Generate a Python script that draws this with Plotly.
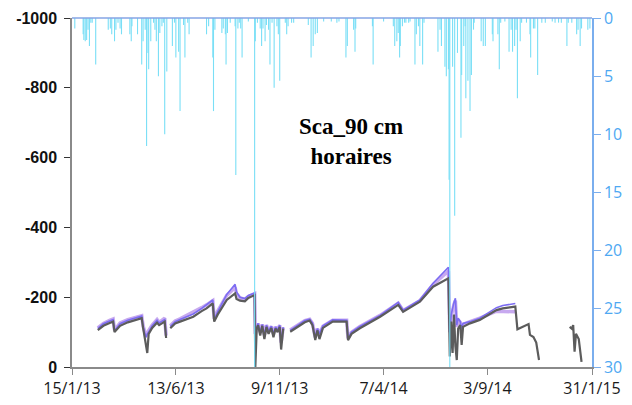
import plotly.graph_objects as go

# ---------------- data ----------------
# hourly rainfall (mm), right axis (reversed)
rain_dates = [
    "2013-01-19", "2013-01-31", "2013-02-01", "2013-02-03", "2013-02-05", "2013-02-07", "2013-02-09",
    "2013-02-11", "2013-02-13", "2013-02-18", "2013-03-08", "2013-03-11", "2013-03-13", "2013-03-17",
    "2013-03-19", "2013-03-22", "2013-03-25", "2013-03-27", "2013-04-08", "2013-04-10", "2013-04-11",
    "2013-04-19", "2013-04-25", "2013-04-27", "2013-04-30", "2013-05-02", "2013-05-04", "2013-05-05",
    "2013-05-08", "2013-05-12", "2013-05-14", "2013-05-16", "2013-05-19", "2013-05-21", "2013-05-24",
    "2013-05-26", "2013-05-28", "2013-05-31", "2013-06-08", "2013-06-11", "2013-06-13", "2013-06-17",
    "2013-06-19", "2013-06-24", "2013-06-26", "2013-06-30", "2013-07-02",
    "2013-07-27", "2013-07-30", "2013-08-05", "2013-08-06", "2013-08-08", "2013-08-18", "2013-08-20",
    "2013-08-23", "2013-08-24", "2013-08-26", "2013-08-30", "2013-09-06", "2013-09-07", "2013-09-10",
    "2013-09-12", "2013-09-14", "2013-09-16", "2013-09-25", "2013-10-04", "2013-10-05", "2013-10-08",
    "2013-10-12", "2013-10-14", "2013-10-16", "2013-10-19", "2013-10-21", "2013-10-24", "2013-10-26",
    "2013-10-29", "2013-11-01", "2013-11-05", "2013-11-07", "2013-11-09", "2013-11-17", "2013-11-19",
    "2013-11-21", "2013-11-26", "2013-11-29", "2013-12-20", "2013-12-24", "2013-12-27", "2013-12-30",
    "2014-01-02", "2014-01-11", "2014-01-22",
    "2014-01-30", "2014-02-02", "2014-02-12", "2014-02-14", "2014-02-23", "2014-02-25", "2014-02-26",
    "2014-03-22", "2014-03-23", "2014-04-07", "2014-04-21", "2014-04-23", "2014-04-26", "2014-04-28",
    "2014-04-30", "2014-05-01", "2014-05-04", "2014-05-07", "2014-05-09", "2014-05-13", "2014-05-15",
    "2014-05-22", "2014-05-24", "2014-05-27", "2014-05-29", "2014-06-02", "2014-06-04", "2014-06-24",
    "2014-06-27", "2014-06-29", "2014-07-04", "2014-07-06", "2014-07-09", "2014-07-10", "2014-07-11",
    "2014-07-15", "2014-07-18", "2014-07-22", "2014-07-27",
    "2014-07-28", "2014-07-31", "2014-08-02", "2014-08-03", "2014-08-06", "2014-08-09", "2014-08-11",
    "2014-08-14", "2014-08-15", "2014-08-25", "2014-08-28", "2014-08-31", "2014-09-10", "2014-09-11",
    "2014-09-18", "2014-09-20", "2014-09-22", "2014-09-28", "2014-10-04", "2014-10-07", "2014-10-09",
    "2014-10-12", "2014-10-14", "2014-10-16", "2014-10-20", "2014-10-22", "2014-10-29", "2014-11-03",
    "2014-11-04", "2014-11-08", "2014-11-10", "2014-11-14", "2014-11-20", "2014-11-25", "2014-12-05",
    "2014-12-09", "2014-12-14", "2014-12-18", "2014-12-26", "2014-12-28", "2015-01-02", "2015-01-09",
    "2015-01-11", "2015-01-14", "2015-01-16", "2015-01-25", "2015-01-28",
]
rain_mm = [
    0.9, 1.4, 1.9, 2.0, 1.9, 1.0, 2.4,
    0.4, 0.4, 4.0, 1.0, 0.9, 1.4, 2.0,
    1.0, 0.4, 0.9, 1.4, 1.4, 2.0, 0.7,
    1.4, 4.0, 2.0, 1.0, 11.0, 3.0, 4.4,
    2.0, 0.4, 1.0, 2.0, 5.0, 1.3, 0.7,
    0.4, 10.0, 4.6, 2.4, 0.4, 3.4, 2.9,
    8.0, 0.6, 3.4, 0.4, 1.4,
    1.4, 0.7, 3.4, 8.0, 1.0, 1.3, 0.9,
    1.4, 4.0, 1.3, 0.4, 0.7, 13.5, 0.9,
    0.4, 0.9, 3.4, 0.3, 32.0, 2.0, 0.4,
    0.9, 2.4, 0.9, 2.0, 0.6, 1.0, 4.0,
    0.4, 6.0, 0.7, 1.4, 5.4, 0.4, 1.4,
    0.7, 0.4, 0.4, 0.6, 3.4, 2.4, 1.4,
    1.3, 0.3, 0.3,
    0.4, 0.3, 3.4, 2.4, 1.0, 2.9, 0.9,
    0.7, 4.0, 0.3, 0.7, 2.4, 2.0, 1.3,
    3.4, 2.4, 0.7, 0.4, 0.4, 0.4, 0.3,
    4.0, 1.4, 0.7, 2.4, 4.0, 0.4, 2.9,
    1.0, 2.4, 4.2, 5.0, 4.4, 13.9, 32.0,
    4.2, 17.0, 3.0, 10.3,
    4.9, 2.4, 0.7, 6.9, 5.4, 8.0, 4.9,
    1.0, 0.4, 2.0, 2.4, 2.4, 1.4, 2.0,
    1.4, 4.4, 0.4, 0.3, 2.9, 1.0, 2.9,
    2.4, 1.0, 6.9, 2.0, 0.4, 0.4, 1.4,
    3.4, 0.9, 0.9, 4.9, 0.4, 0.4, 0.3,
    0.4, 0.4, 0.4, 2.4, 0.4, 0.4, 1.4,
    1.0, 2.4, 0.9, 1.0, 0.9,
]

# soil water suction at 90 cm (left axis, reversed); None = gap in record
suction_dates = [
    "2013-02-21", "2013-03-01", "2013-03-10", "2013-03-15", "2013-03-17", "2013-03-25", "2013-04-05",
    "2013-04-15", "2013-04-25", "2013-04-27", "2013-05-01", "2013-05-03", "2013-05-05", "2013-05-10",
    "2013-05-17", "2013-05-20", "2013-05-28", "2013-05-30", "2013-06-02",
    "2013-06-05", "2013-06-12", "2013-06-19", "2013-07-01", "2013-07-08", "2013-07-20", "2013-07-27",
    "2013-08-05", "2013-08-07", "2013-08-12", "2013-08-25", "2013-09-06", "2013-09-08", "2013-09-13",
    "2013-09-20", "2013-09-25", "2013-10-04", "2013-10-05", "2013-10-07", "2013-10-09", "2013-10-12",
    "2013-10-15", "2013-10-18", "2013-10-21", "2013-10-24", "2013-10-28", "2013-10-31", "2013-11-03",
    "2013-11-06", "2013-11-09", "2013-11-11", "2013-11-14", "2013-11-19",
    "2013-11-24", "2013-12-05", "2013-12-15", "2013-12-22", "2013-12-26", "2013-12-30", "2014-01-02",
    "2014-01-05", "2014-01-10", "2014-01-24", "2014-02-13", "2014-02-15", "2014-02-20", "2014-03-04",
    "2014-04-02", "2014-04-28", "2014-05-05", "2014-05-29", "2014-06-17", "2014-07-09", "2014-07-11",
    "2014-07-13", "2014-07-15", "2014-07-17", "2014-07-19", "2014-07-21", "2014-07-23", "2014-07-26",
    "2014-07-28", "2014-07-30", "2014-08-09", "2014-08-23", "2014-09-16", "2014-09-25", "2014-10-13",
    "2014-10-16", "2014-11-01", "2014-11-03", "2014-11-08", "2014-11-12", "2014-11-16", "2014-12-01",
    "2014-12-30", "2015-01-02", "2015-01-04", "2015-01-06", "2015-01-08", "2015-01-12", "2015-01-16",
]
suction_gray = [
    -106, -118, -126, -130, -100, -118, -128,
    -133, -140, -112, -60, -40, -95, -112,
    -127, -120, -130, -83, None,
    -111, -125, -130, -140, -144, -160, -168,
    -182, -130, -150, -192, -211, -195, -190,
    -188, -198, -206, 0, -110, -120, -90,
    -118, -80, -115, -95, -112, -85, -110,
    -100, -115, -50, -110, None,
    -101, -115, -128, -133, -120, -77, -105,
    -80, -112, -130, -130, -77, -95, -111,
    -144, -178, -158, -187, -230, -254, -30,
    -130, -40, -150, -60, -20, -110, -120,
    -63, -115, -125, -135, -163, -168, -173,
    -108, -123, -92, -86, -70, -20, None,
    -115, -110, -120, -44, -95, -80, -15,
]
suction_blue = [
    -110, -124, -132, -136, -104, -124, -134,
    -139, -146, -116, -85, -95, -100, -118,
    -134, -126, -136, -88, None,
    -116, -130, -136, -147, -152, -168, -178,
    -192, -136, -158, -208, -237, -215, -200,
    -196, -205, -212, -95, -115, -125, -100,
    -122, -92, -120, -104, -117, -95, -115,
    -106, -120, -70, -114, None,
    -105, -120, -133, -137, -126, -85, -110,
    -95, -118, -135, -134, -82, -100, -116,
    -148, -185, -163, -192, -240, -286, -100,
    -150, -170, -185, -197, -120, -140, -130,
    -110, -125, -130, -140, -170, -176, -182,
    None, None, None, None, None, None, None,
    None, None, None, None, None, None, None,
]
suction_purple = [
    -112, -125, -134, -138, -106, -126, -136,
    -141, -147, -118, -88, -98, -104, -120,
    -136, -128, -140, -90, None,
    -118, -132, -138, -150, -156, -170, -178,
    -190, -138, -160, -205, -228, -210, -198,
    -194, -202, -210, -95, -116, -125, -100,
    -122, -92, -120, -104, -116, -95, -115,
    -106, -120, -70, -114, None,
    -106, -120, -133, -137, -125, -85, -110,
    -95, -117, -134, -134, -82, -100, -116,
    -148, -183, -162, -190, -236, -275, -100,
    -145, -165, -180, -190, -115, -135, -128,
    -108, -122, -130, -140, -160, -160, -158,
    None, None, None, None, None, None, None,
    None, None, None, None, None, None, None,
]

x_tick_dates = ["2013-01-15", "2013-06-13", "2013-11-09", "2014-04-07", "2014-09-03", "2015-01-31"]
x_tick_text = ["15/1/13", "13/6/13", "9/11/13", "7/4/14", "3/9/14", "31/1/15"]
left_tick_vals = [-1000, -800, -600, -400, -200, 0]
left_tick_text = ["-1000", "-800", "-600", "-400", "-200", "0"]
right_tick_vals = [0, 5, 10, 15, 20, 25, 30]

# ---------------- figure ----------------
fig = go.Figure()

fig.add_trace(go.Scatter(
    x=suction_dates, y=suction_purple, mode="lines", yaxis="y",
    line=dict(color="#c7a9ef", width=3.5), connectgaps=False, showlegend=False))
fig.add_trace(go.Scatter(
    x=suction_dates, y=suction_blue, mode="lines", yaxis="y",
    line=dict(color="#7c6cf2", width=1.6), connectgaps=False, showlegend=False))
fig.add_trace(go.Scatter(
    x=suction_dates, y=suction_gray, mode="lines", yaxis="y",
    line=dict(color="#5c5c5c", width=2.2), connectgaps=False, showlegend=False))

# rain drawn as thin hourly sticks hanging from the top (secondary axis)
stick_x, stick_y = [], []
for d, v in zip(rain_dates, rain_mm):
    stick_x += [d, d, None]
    stick_y += [0, v, None]
fig.add_trace(go.Scatter(
    x=stick_x, y=stick_y, mode="lines", yaxis="y2",
    line=dict(color="#7adff6", width=1.1), connectgaps=False, showlegend=False))

axis_gray = "#8a8a8a"
fig.update_layout(
    width=632, height=405,
    margin=dict(l=72, r=40, t=18, b=38, autoexpand=False),
    paper_bgcolor="white", plot_bgcolor="white",
    xaxis=dict(
        type="date", range=["2013-01-15", "2015-01-31"],
        tickvals=x_tick_dates, ticktext=x_tick_text,
        showgrid=False, zeroline=False, automargin=False,
        showline=True, linecolor=axis_gray, linewidth=1.5,
        ticks="outside", ticklen=6, tickcolor=axis_gray, tickwidth=1,
        tickfont=dict(family="Open Sans", size=16, color="#1a1a1a"),
    ),
    yaxis=dict(
        range=[0, -1000], tickvals=left_tick_vals, ticktext=left_tick_text,
        showgrid=False, zeroline=False, automargin=False,
        showline=True, linecolor=axis_gray, linewidth=1.5,
        ticks="outside", ticklen=6, tickcolor="#333333", tickwidth=1,
        tickfont=dict(family="Liberation Sans", size=16, color="#111111", weight="bold"),
        ticklabelstandoff=4,
    ),
    yaxis2=dict(
        overlaying="y", side="right", range=[30, 0],
        tickvals=right_tick_vals, automargin=False,
        showgrid=False, zeroline=False,
        showline=True, linecolor="#7aaeee", linewidth=1.5,
        ticks="outside", ticklen=7, tickcolor="#7aaeee", tickwidth=1,
        tickfont=dict(family="Open Sans", size=16, color="#4ea8f2"),
    ),
    shapes=[dict(type="line", xref="paper", yref="paper", x0=0, x1=1, y0=1, y1=1,
                 line=dict(color="#86a4e4", width=1.5))],
    annotations=[dict(
        text="<b>Sca_90 cm<br>horaires</b>", xref="paper", yref="paper",
        x=0.537, y=0.645, showarrow=False,
        font=dict(family="Liberation Serif", size=23, color="black"),
        align="center")],
)

fig.write_html(
    "out.html",
    config={"displayModeBar": False},
    post_script="document.body.style.margin='0';document.body.style.overflow='hidden';",
)
